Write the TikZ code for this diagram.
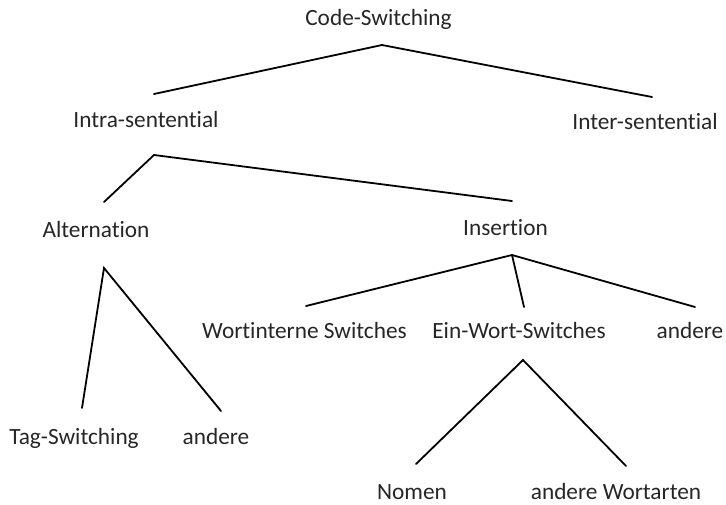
\documentclass[tikz,border=0pt]{standalone}
\usepackage{fontspec}
\setmainfont{Carlito}[Ligatures=NoCommon]
\begin{document}
\begin{tikzpicture}[x=1pt,y=-1pt,
  lbl/.style={anchor=base,inner sep=0pt,font=\fontsize{23.3}{28}\selectfont,text=black!85},
  branch/.style={line width=1.8pt,line cap=round,line join=miter}]
\useasboundingbox (0,0) rectangle (726,504);

% labels
\node[lbl] (cs)    at (378.5,25)  {Code-Switching};
\node[lbl] (intra) at (146,127)   {Intra-sentential};
\node[lbl] (inter) at (645,129)   {Inter-sentential};
\node[lbl] (alt)   at (96,237)    {Alternation};
\node[lbl] (ins)   at (505.5,235) {Insertion};
\node[lbl] (wint)  at (304.5,338) {Wortinterne Switches};
\node[lbl] (ein)   at (519,338)   {Ein-Wort-Switches};
\node[lbl] (insa)  at (690,338)   {andere};
\node[lbl] (tag)   at (74,444)    {Tag-Switching};
\node[lbl] (alta)  at (216,444)   {andere};
\node[lbl] (nom)   at (412,499)   {Nomen};
\node[lbl] (wart)  at (616,499)   {andere Wortarten};

% branching points and branch ends
\coordinate (cs-top)    at (382,45);
\coordinate (intra-end) at (154,94);
\coordinate (inter-end) at (652,97);
\coordinate (intra-top) at (154,155);
\coordinate (alt-end)   at (104,202);
\coordinate (ins-end)   at (512,201);
\coordinate (alt-top)   at (104,268);
\coordinate (tag-end)   at (82,408);
\coordinate (alta-end)  at (221,411);
\coordinate (ins-top)   at (512,255);
\coordinate (wint-end)  at (306,306);
\coordinate (ein-end)   at (524,307);
\coordinate (insa-end)  at (695,307);
\coordinate (ein-top)   at (523,360);
\coordinate (nom-end)   at (416,464);
\coordinate (wart-end)  at (626,466);

% tree branches
\draw[branch] (intra-end) -- (cs-top) -- (inter-end);
\draw[branch] (alt-end) -- (intra-top) -- (ins-end);
\draw[branch] (tag-end) -- (alt-top) -- (alta-end);
\draw[branch] (wint-end) -- (ins-top) -- (insa-end);
\draw[branch] (ins-top) -- (ein-end);
\draw[branch] (nom-end) -- (ein-top) -- (wart-end);
\end{tikzpicture}
\end{document}
